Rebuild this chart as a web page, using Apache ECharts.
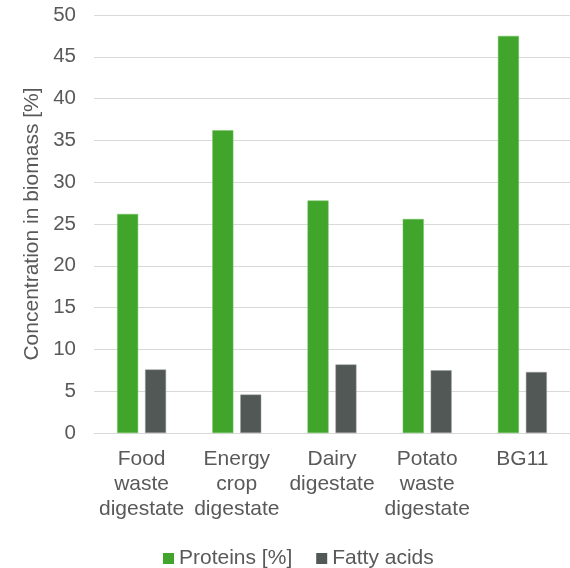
<!DOCTYPE html>
<html><head><meta charset="utf-8">
<script src="https://cdn.jsdelivr.net/npm/echarts@6/dist/echarts.min.js"></script>
<style>html,body{margin:0;padding:0;background:#fff}#c{width:570px;height:568px}</style>
</head><body><div id="c"></div>
<script>
const categories = ["Food\nwaste\ndigestate", "Energy\ncrop\ndigestate", "Dairy\ndigestate", "Potato\nwaste\ndigestate", "BG11"];
const proteins = [26.2, 36.2, 27.8, 25.6, 47.5];
const fattyAcids = [7.6, 4.6, 8.2, 7.5, 7.3];
const yTicks = [0, 50, 5];
const seriesNames = ["Proteins [%]", "Fatty acids"];

const font = "'Liberation Sans', Arial, sans-serif";
const chart = echarts.init(document.getElementById('c'), null, {renderer: 'canvas'});
chart.setOption({
  animation: false,
  grid: {left: 94, right: 0, top: 15, bottom: 135, containLabel: false},
  legend: {
    top: 543, left: 158, itemWidth: 11, itemHeight: 11, itemGap: 24, icon: 'rect',
    itemStyle: {borderWidth: 0},
    textStyle: {fontFamily: font, fontSize: 21, color: '#595959', padding: [0,0,0,0]},
    data: seriesNames
  },
  xAxis: {
    type: 'category', data: categories,
    axisLine: {lineStyle: {color: '#d9d9d9', width: 1}},
    axisTick: {show: false},
    axisLabel: {fontFamily: font, fontSize: 21, color: '#595959', lineHeight: 25, margin: 14, interval: 0}
  },
  yAxis: {
    type: 'value', min: yTicks[0], max: yTicks[1], interval: yTicks[2],
    name: 'Concentration in biomass [%]', nameLocation: 'middle', nameGap: 50,
    nameTextStyle: {fontFamily: font, fontSize: 21, color: '#595959'},
    axisLine: {show: false}, axisTick: {show: false},
    axisLabel: {fontFamily: font, fontSize: 20.5, color: '#595959', margin: 18},
    splitLine: {lineStyle: {color: '#d9d9d9', width: 1}}
  },
  series: [
    {name: seriesNames[0], type: 'bar', data: proteins, barWidth: 21, barGap: '33%',
     itemStyle: {color: '#41a42b', borderColor: '#6cc05a', borderWidth: 0.5}},
    {name: seriesNames[1], type: 'bar', data: fattyAcids, barWidth: 21,
     itemStyle: {color: '#525856', borderColor: '#9a9e9c', borderWidth: 0.5}}
  ]
});
</script></body></html>
